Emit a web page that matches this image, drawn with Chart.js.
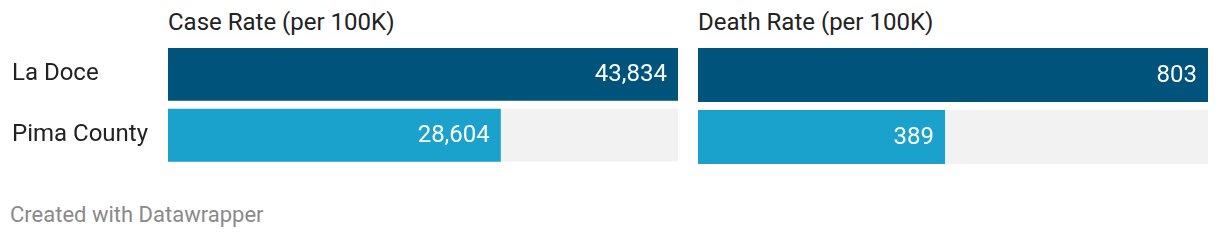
<!DOCTYPE html>
<html>
<head>
<meta charset="utf-8">
<script src="https://cdn.jsdelivr.net/npm/chart.js@4"></script>
<style>
  body { margin: 0; background: #fff; font-family: Roboto, sans-serif; }
  #wrap { position: relative; width: 1220px; height: 240px; }
  .ttl { position: absolute; top: 8px; font-size: 24px; line-height: 28px; color: #222; white-space: nowrap; }
  #c1wrap { position: absolute; left: 0; top: 0; width: 688px; height: 180px; }
  #c2wrap { position: absolute; left: 688px; top: 0; width: 532px; height: 180px; }
  #foot { position: absolute; left: 10px; top: 202px; font-size: 22px; line-height: 26px; color: #8a8a8a; }
</style>
</head>
<body>
<div id="wrap">
  <div class="ttl" style="left:168px">Case Rate (per 100K)</div>
  <div class="ttl" style="left:698px">Death Rate (per 100K)</div>
  <div id="c1wrap"><canvas id="c1"></canvas></div>
  <div id="c2wrap"><canvas id="c2"></canvas></div>
  <div id="foot">Created with Datawrapper</div>
</div>
<script>
const places = ['La Doce', 'Pima County']
const caseRate = [43834, 28604]
const deathRate = [803, 389]
const barColors = ['#00537b', '#1aa1cc']

// gray track behind every bar + white value label at the bar end
const barExtras = {
    id: 'barExtras',
    beforeDatasetsDraw(chart) {
        const ctx = chart.ctx
        const area = chart.chartArea
        ctx.save()
        ctx.fillStyle = '#f2f2f2'
        chart.getDatasetMeta(0).data.forEach((bar) => {
            ctx.fillRect(area.left, bar.y - bar.height / 2, area.right - area.left, bar.height)
        })
        ctx.restore()
    },
    afterDatasetsDraw(chart) {
        const ctx = chart.ctx
        const vals = chart.data.datasets[0].data
        ctx.save()
        ctx.fillStyle = '#fff'
        ctx.font = '24px Roboto'
        ctx.textAlign = 'right'
        ctx.textBaseline = 'middle'
        chart.getDatasetMeta(0).data.forEach((bar, i) => {
            ctx.fillText(vals[i].toLocaleString('en-US'), bar.x - 11, bar.y + 1)
        })
        ctx.restore()
    }
}

function makeChart(id, values, showLabels, pad) {
    return new Chart(document.getElementById(id), {
        type: 'bar',
        data: {
            labels: places,
            datasets: [{
                data: values,
                backgroundColor: barColors,
                categoryPercentage: 1,
                barPercentage: 0.87
            }]
        },
        options: {
            indexAxis: 'y',
            responsive: true,
            maintainAspectRatio: false,
            animation: false,
            layout: { padding: pad },
            plugins: { legend: { display: false }, tooltip: { enabled: false } },
            scales: {
                x: { display: false, min: 0, max: Math.max(...values) },
                y: {
                    display: showLabels,
                    grid: { display: false },
                    border: { display: false },
                    ticks: {
                        crossAlign: 'far',
                        color: '#222',
                        font: { family: 'Roboto', size: 24 },
                        padding: 0
                    },
                    afterFit: (scale) => { if (showLabels) scale.width = 156 }
                }
            }
        },
        plugins: [barExtras]
    })
}

makeChart('c1', caseRate, true, { left: 12, right: 10, top: 44, bottom: 12 })
makeChart('c2', deathRate, false, { left: 10, right: 12, top: 44, bottom: 12 })
</script>
</body>
</html>
